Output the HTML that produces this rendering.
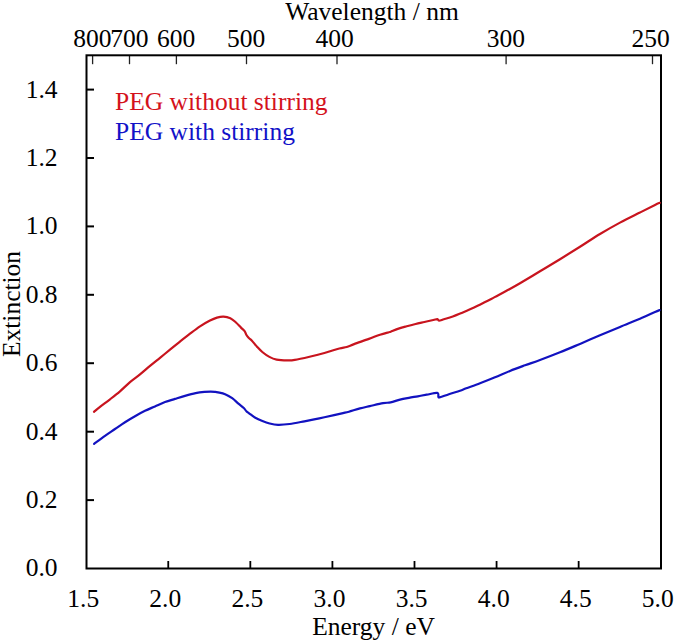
<!DOCTYPE html>
<html><head><meta charset="utf-8"><style>
html,body{margin:0;padding:0;background:#fff;}
body{width:675px;height:642px;overflow:hidden;}
svg{display:block;}
text{font-family:"Liberation Serif",serif;font-size:25.5px;fill:#000;}
</style></head><body>
<svg width="675" height="642" viewBox="0 0 675 642">
<rect x="0" y="0" width="675" height="642" fill="#fff"/>
<line x1="168.25" y1="568.5" x2="168.25" y2="561" stroke="#000" stroke-width="1.8"/><line x1="250.33" y1="568.5" x2="250.33" y2="561" stroke="#000" stroke-width="1.8"/><line x1="332.41" y1="568.5" x2="332.41" y2="561" stroke="#000" stroke-width="1.8"/><line x1="414.49" y1="568.5" x2="414.49" y2="561" stroke="#000" stroke-width="1.8"/><line x1="496.57" y1="568.5" x2="496.57" y2="561" stroke="#000" stroke-width="1.8"/><line x1="578.65" y1="568.5" x2="578.65" y2="561" stroke="#000" stroke-width="1.8"/><line x1="86.5" y1="500.1" x2="94" y2="500.1" stroke="#000" stroke-width="2"/><line x1="86.5" y1="431.7" x2="94" y2="431.7" stroke="#000" stroke-width="2"/><line x1="86.5" y1="363.2" x2="94" y2="363.2" stroke="#000" stroke-width="2"/><line x1="86.5" y1="294.8" x2="94" y2="294.8" stroke="#000" stroke-width="2"/><line x1="86.5" y1="226.4" x2="94" y2="226.4" stroke="#000" stroke-width="2"/><line x1="86.5" y1="158.0" x2="94" y2="158.0" stroke="#000" stroke-width="2"/><line x1="86.5" y1="89.6" x2="94" y2="89.6" stroke="#000" stroke-width="2"/><line x1="92.6" y1="55.3" x2="92.6" y2="64.2" stroke="#222" stroke-width="1.3"/><line x1="129.5" y1="55.3" x2="129.5" y2="64.2" stroke="#222" stroke-width="1.3"/><line x1="176.4" y1="55.3" x2="176.4" y2="64.2" stroke="#222" stroke-width="1.3"/><line x1="246.5" y1="55.3" x2="246.5" y2="64.2" stroke="#222" stroke-width="1.3"/><line x1="337.0" y1="55.3" x2="337.0" y2="64.2" stroke="#222" stroke-width="1.3"/><line x1="506.1" y1="55.3" x2="506.1" y2="64.2" stroke="#222" stroke-width="1.3"/><line x1="652.5" y1="55.3" x2="652.5" y2="64.2" stroke="#222" stroke-width="1.3"/>
<rect x="86.5" y="55.3" width="574.5" height="513.2" fill="none" stroke="#000" stroke-width="2"/>
<path d="M94.00,411.80 C95.00,410.97 97.33,408.88 100.00,406.80 C102.67,404.72 106.67,401.88 110.00,399.30 C113.33,396.72 116.67,394.17 120.00,391.30 C123.33,388.43 126.67,384.92 130.00,382.10 C133.33,379.28 136.67,377.10 140.00,374.40 C143.33,371.70 146.67,368.67 150.00,365.90 C153.33,363.13 156.67,360.50 160.00,357.80 C163.33,355.10 166.67,352.40 170.00,349.70 C173.33,347.00 176.67,344.27 180.00,341.60 C183.33,338.93 186.67,336.25 190.00,333.70 C193.33,331.15 196.67,328.50 200.00,326.30 C203.33,324.10 207.17,321.95 210.00,320.50 C212.83,319.05 214.75,318.25 217.00,317.60 C219.25,316.95 221.28,316.50 223.50,316.60 C225.72,316.70 228.27,317.27 230.30,318.20 C232.33,319.13 233.92,320.63 235.70,322.20 C237.48,323.77 239.52,326.12 241.00,327.60 C242.48,329.08 243.72,329.92 244.60,331.10 C245.48,332.28 245.63,333.58 246.30,334.70 C246.97,335.82 247.70,336.85 248.60,337.80 C249.50,338.75 250.30,338.92 251.70,340.40 C253.10,341.88 255.23,344.77 257.00,346.70 C258.77,348.63 260.23,350.30 262.30,352.00 C264.37,353.70 267.02,355.63 269.40,356.90 C271.78,358.17 273.60,359.02 276.60,359.60 C279.60,360.18 284.37,360.35 287.40,360.40 C290.43,360.45 291.10,360.52 294.80,359.90 C298.50,359.28 304.67,357.85 309.60,356.70 C314.53,355.55 319.45,354.37 324.40,353.00 C329.35,351.63 335.58,349.50 339.30,348.50 C343.02,347.50 344.23,347.73 346.70,347.00 C349.17,346.27 350.40,345.45 354.10,344.10 C357.80,342.75 364.58,340.47 368.90,338.90 C373.22,337.33 376.67,335.82 380.00,334.70 C383.33,333.58 387.12,332.68 388.90,332.20 C390.68,331.72 389.22,332.35 390.70,331.80 C392.18,331.25 395.13,329.82 397.80,328.90 C400.47,327.98 403.73,327.12 406.70,326.30 C409.67,325.48 412.65,324.72 415.60,324.00 C418.55,323.28 421.45,322.67 424.40,322.00 C427.35,321.33 431.13,320.48 433.30,320.00 C435.47,319.52 436.45,318.98 437.40,319.10 C438.35,319.22 437.92,320.67 439.00,320.70 C440.08,320.73 441.60,320.00 443.90,319.30 C446.20,318.60 449.83,317.57 452.80,316.50 C455.77,315.43 458.73,314.13 461.70,312.90 C464.67,311.67 467.65,310.43 470.60,309.10 C473.55,307.77 476.45,306.33 479.40,304.90 C482.35,303.47 485.77,301.80 488.30,300.50 C490.83,299.20 491.08,298.97 494.60,297.10 C498.12,295.23 505.17,291.60 509.40,289.30 C513.63,287.00 514.90,286.30 520.00,283.30 C525.10,280.30 533.33,275.32 540.00,271.30 C546.67,267.28 553.33,263.28 560.00,259.20 C566.67,255.12 573.33,251.00 580.00,246.80 C586.67,242.60 593.33,238.03 600.00,234.00 C606.67,229.97 613.33,226.18 620.00,222.60 C626.67,219.02 634.17,215.43 640.00,212.50 C645.83,209.57 651.70,206.62 655.00,205.00 C658.30,203.38 659.00,203.17 659.80,202.80" fill="none" stroke="#c8141e" stroke-width="2.2" stroke-linejoin="round" stroke-linecap="round"/>
<path d="M94.10,443.90 C95.92,442.55 101.52,438.28 105.00,435.80 C108.48,433.32 111.67,431.27 115.00,429.00 C118.33,426.73 121.67,424.33 125.00,422.20 C128.33,420.07 131.67,418.10 135.00,416.20 C138.33,414.30 141.67,412.43 145.00,410.80 C148.33,409.17 151.67,407.87 155.00,406.40 C158.33,404.93 161.67,403.25 165.00,402.00 C168.33,400.75 171.67,399.92 175.00,398.90 C178.33,397.88 181.57,396.85 185.00,395.90 C188.43,394.95 192.37,393.87 195.60,393.20 C198.83,392.53 201.88,392.17 204.40,391.90 C206.92,391.63 208.92,391.60 210.70,391.60 C212.48,391.60 213.88,391.77 215.10,391.90 C216.32,392.03 216.33,392.02 218.00,392.40 C219.67,392.78 222.73,393.23 225.10,394.20 C227.47,395.17 229.98,396.63 232.20,398.20 C234.42,399.77 236.47,401.97 238.40,403.60 C240.33,405.23 242.47,406.72 243.80,408.00 C245.13,409.28 245.52,410.42 246.40,411.30 C247.28,412.18 247.62,412.22 249.10,413.30 C250.58,414.38 253.08,416.50 255.30,417.80 C257.52,419.10 260.02,420.15 262.40,421.10 C264.78,422.05 267.00,422.88 269.60,423.50 C272.20,424.12 274.67,424.72 278.00,424.80 C281.33,424.88 285.20,424.58 289.60,424.00 C294.00,423.42 299.45,422.25 304.40,421.30 C309.35,420.35 314.35,419.33 319.30,418.30 C324.25,417.27 330.15,415.97 334.10,415.10 C338.05,414.23 340.53,413.67 343.00,413.10 C345.47,412.53 346.07,412.48 348.90,411.70 C351.73,410.92 356.52,409.33 360.00,408.40 C363.48,407.47 365.95,406.98 369.80,406.10 C373.65,405.22 379.63,403.72 383.10,403.10 C386.57,402.48 387.78,402.98 390.60,402.40 C393.42,401.82 396.95,400.37 400.00,399.60 C403.05,398.83 405.93,398.35 408.90,397.80 C411.87,397.25 414.83,396.82 417.80,396.30 C420.77,395.78 423.45,395.27 426.70,394.70 C429.95,394.13 435.35,392.53 437.30,392.90 C439.25,393.27 437.95,396.17 438.40,396.90 C438.85,397.63 438.25,397.75 440.00,397.30 C441.75,396.85 445.57,395.30 448.90,394.20 C452.23,393.10 457.10,391.68 460.00,390.70 C462.90,389.72 462.97,389.53 466.30,388.30 C469.63,387.07 475.22,385.13 480.00,383.30 C484.78,381.47 490.00,379.37 495.00,377.30 C500.00,375.23 505.00,372.90 510.00,370.90 C515.00,368.90 520.00,367.12 525.00,365.30 C530.00,363.48 534.17,362.17 540.00,360.00 C545.83,357.83 553.33,354.98 560.00,352.30 C566.67,349.62 573.33,346.73 580.00,343.90 C586.67,341.07 593.33,338.13 600.00,335.30 C606.67,332.47 613.33,329.67 620.00,326.90 C626.67,324.13 634.17,321.18 640.00,318.70 C645.83,316.22 651.73,313.43 655.00,312.00 C658.27,310.57 658.83,310.42 659.60,310.10" fill="none" stroke="#1212c0" stroke-width="2.2" stroke-linejoin="round" stroke-linecap="round"/>
<text x="83.3" y="607" text-anchor="middle">1.5</text><text x="165.3" y="607" text-anchor="middle">2.0</text><text x="247.4" y="607" text-anchor="middle">2.5</text><text x="329.5" y="607" text-anchor="middle">3.0</text><text x="411.6" y="607" text-anchor="middle">3.5</text><text x="493.7" y="607" text-anchor="middle">4.0</text><text x="575.8" y="607" text-anchor="middle">4.5</text><text x="657.8" y="607" text-anchor="middle">5.0</text><text x="57.5" y="576.4" text-anchor="end">0.0</text><text x="57.5" y="508.0" text-anchor="end">0.2</text><text x="57.5" y="439.6" text-anchor="end">0.4</text><text x="57.5" y="371.1" text-anchor="end">0.6</text><text x="57.5" y="302.7" text-anchor="end">0.8</text><text x="57.5" y="234.3" text-anchor="end">1.0</text><text x="57.5" y="165.9" text-anchor="end">1.2</text><text x="57.5" y="97.5" text-anchor="end">1.4</text><text x="92.4" y="47" text-anchor="middle">800</text><text x="129.3" y="47" text-anchor="middle">700</text><text x="176.2" y="47" text-anchor="middle">600</text><text x="246.1" y="47" text-anchor="middle">500</text><text x="334.5" y="47" text-anchor="middle">400</text><text x="505.8" y="47" text-anchor="middle">300</text><text x="650.7" y="47" text-anchor="middle">250</text>
<text x="372" y="19.5" text-anchor="middle">Wavelength / nm</text>
<text x="373.5" y="634.5" text-anchor="middle">Energy / eV</text>
<text transform="translate(19.8,304) rotate(-90)" text-anchor="middle">Extinction</text>
<text x="115" y="109.7" style="fill:#d4121c">PEG without stirring</text>
<text x="115" y="139.9" style="fill:#1212c8">PEG with stirring</text>
</svg>
</body></html>
